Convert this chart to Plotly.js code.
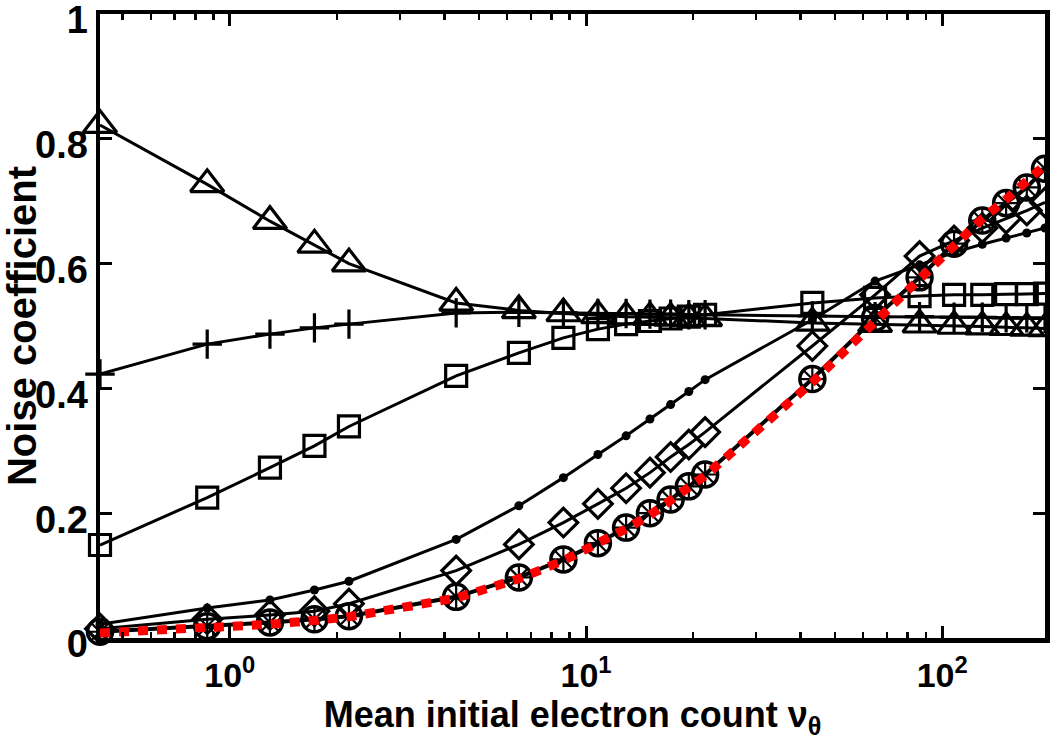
<!DOCTYPE html>
<html>
<head>
<meta charset="utf-8">
<script src="https://cdn.plot.ly/plotly-3.0.1.min.js"></script>
<style>
html,body{margin:0;padding:0;background:#fff;}
#chart{width:1050px;height:745px;}
</style>
</head>
<body>
<div id="chart"></div>
<script>
// Mean initial electron count (x values)
const nuTheta = [0.432, 0.864, 1.296, 1.728, 2.16, 4.32, 6.48, 8.64, 10.8, 12.96, 15.12, 17.28, 19.44, 21.6, 43.2, 64.8, 86.4, 108, 129.6, 151.2, 172.8, 194.4];

// Noise coefficient series
const triangleSeries = [0.822, 0.727, 0.668, 0.630, 0.600, 0.537, 0.525, 0.520, 0.517, 0.515, 0.514, 0.513, 0.512, 0.512, 0.505, 0.503, 0.502, 0.500, 0.499, 0.498, 0.497, 0.496];
const plusSeries     = [0.423, 0.471, 0.487, 0.497, 0.503, 0.521, 0.522, 0.521, 0.520, 0.520, 0.519, 0.519, 0.518, 0.518, 0.516, 0.515, 0.515, 0.514, 0.514, 0.513, 0.513, 0.512];
const squareSeries   = [0.149, 0.225, 0.273, 0.308, 0.339, 0.420, 0.457, 0.481, 0.495, 0.503, 0.508, 0.512, 0.515, 0.518, 0.537, 0.545, 0.548, 0.550, 0.550, 0.551, 0.551, 0.552];
const dotSeries      = [0.022, 0.048, 0.061, 0.077, 0.091, 0.158, 0.212, 0.257, 0.294, 0.324, 0.351, 0.374, 0.395, 0.414, 0.510, 0.572, 0.598, 0.618, 0.631, 0.641, 0.649, 0.657];
const diamondSeries  = [0.015, 0.030, 0.037, 0.043, 0.055, 0.108, 0.150, 0.185, 0.215, 0.240, 0.265, 0.290, 0.310, 0.330, 0.468, 0.550, 0.612, 0.637, 0.657, 0.672, 0.685, 0.698];
const circleSeries   = [0.010, 0.019, 0.025, 0.030, 0.035, 0.066, 0.097, 0.126, 0.152, 0.177, 0.200, 0.222, 0.243, 0.262, 0.415, 0.513, 0.578, 0.632, 0.669, 0.697, 0.722, 0.752];
const theorySeries   = [0.008, 0.016, 0.022, 0.028, 0.034, 0.064, 0.095, 0.124, 0.150, 0.175, 0.197, 0.219, 0.240, 0.260, 0.410, 0.508, 0.578, 0.632, 0.672, 0.703, 0.732, 0.758];

// Axis ticks
const xTickVals = [1, 10, 100];
const xTickText = ['10<sup>0</sup>', '10<sup>1</sup>', '10<sup>2</sup>'];
const xMinorVals = [0.5, 0.6, 0.7, 0.8, 0.9, 2, 3, 4, 5, 6, 7, 8, 9, 20, 30, 40, 50, 60, 70, 80, 90];
const yTickVals = [0, 0.2, 0.4, 0.6, 0.8, 1];
const yTickText = ['0', '0.2', '0.4', '0.6', '0.8', '1'];

const FONT = 'Liberation Sans, Arial, Helvetica, sans-serif';
const lineStyle = {color: '#000', width: 3};

function tr(y, symbol, size, extra) {
  return Object.assign({
    x: nuTheta, y: y, type: 'scatter', mode: 'lines+markers',
    line: lineStyle, cliponaxis: false,
    marker: {symbol: symbol, size: size, color: '#000', line: {color: '#000', width: 3.2}}
  }, extra || {});
}

const data = [
  tr(triangleSeries, 'triangle-up-open', 29),
  tr(plusSeries, 'cross-thin-open', 21),
  tr(squareSeries, 'square-open', 21),
  tr(dotSeries, 'circle', 9, {marker: {symbol: 'circle', size: 9, color: '#000'}}),
  tr(diamondSeries, 'diamond-open', 22),
  tr(circleSeries, 'circle-open', 25, {line: {color: '#000', width: 4}, marker: {symbol: 'circle-open', size: 25, color: '#000', line: {color: '#000', width: 3.5}}}),
  tr(circleSeries, 'asterisk-open', 19, {mode: 'markers', marker: {symbol: 'asterisk-open', size: 19, line: {color: '#000', width: 2.2}}}),
  {x: nuTheta, y: theorySeries, type: 'scatter', mode: 'lines', cliponaxis: false,
   line: {color: '#ff0000', width: 9, dash: '10px,9px'}}
];

const axisCommon = {
  showline: true, linecolor: '#000', linewidth: 4.5, mirror: 'ticks',
  ticks: 'inside', ticklen: 12, tickwidth: 3, tickcolor: '#000',
  showgrid: false, zeroline: false, ticklabeloverflow: 'allow',
  tickfont: {family: FONT, size: 38, color: '#000', weight: 700}
};

const layout = {
  width: 1050, height: 745,
  margin: {l: 100, r: 5, t: 14, b: 107},
  paper_bgcolor: '#fff', plot_bgcolor: '#fff',
  showlegend: false,
  xaxis: Object.assign({}, axisCommon, {
    type: 'log',
    range: [Math.log10(nuTheta[0]), Math.log10(nuTheta[nuTheta.length - 1])],
    tickmode: 'array', tickvals: xTickVals, ticktext: xTickText,
    tickfont: {family: FONT, size: 34, color: '#000', weight: 700},
    ticklabelstandoff: 4,
    minor: {tickmode: 'array', tickvals: xMinorVals, ticks: 'inside', ticklen: 6, tickwidth: 2.5, tickcolor: '#000'},
    title: {text: 'Mean initial electron count ν<sub>θ</sub>', font: {family: FONT, size: 36, color: '#000', weight: 700}, standoff: 6}
  }),
  yaxis: Object.assign({}, axisCommon, {
    range: [0, 1],
    tickmode: 'array', tickvals: yTickVals, ticktext: yTickText,
    ticklabelshift: 6,
    title: {text: 'Noise coefficient', font: {family: FONT, size: 40, color: '#000', weight: 700}, standoff: 4}
  })
};

Plotly.newPlot('chart', data, layout, {displayModeBar: false, staticPlot: true});
</script>
</body>
</html>
